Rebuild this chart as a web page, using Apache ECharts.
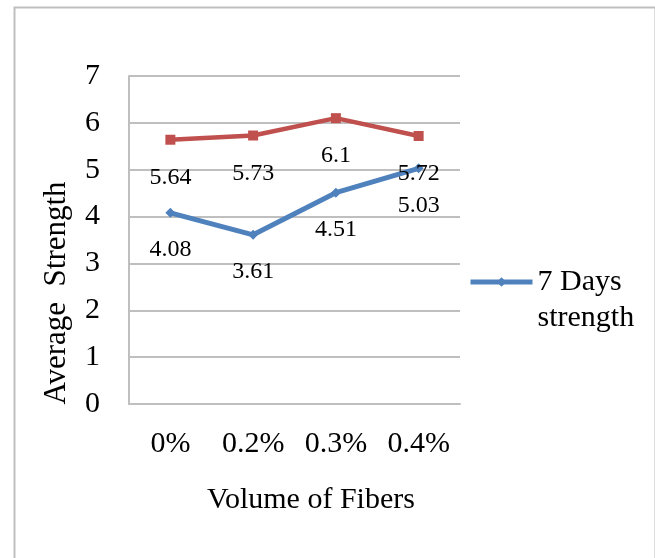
<!DOCTYPE html>
<html>
<head>
<meta charset="utf-8">
<script src="https://cdn.jsdelivr.net/npm/echarts@6/dist/echarts.min.js"></script>
<style>
html,body{margin:0;padding:0;background:#fff;}
#c{width:655px;height:558px;}
</style>
</head>
<body>
<div id="c"></div>
<script>
var categories = ['0%', '0.2%', '0.3%', '0.4%'];
var days7 = [4.08, 3.61, 4.51, 5.03];
var days28 = [5.64, 5.73, 6.1, 5.72];
var yTicks = [0, 1, 2, 3, 4, 5, 6, 7];

var FONT = '"Liberation Serif", "Times New Roman", serif';
var chart = echarts.init(document.getElementById('c'), null, {renderer: 'canvas'});
chart.setOption({
  backgroundColor: '#fff',
  animation: false,
  grid: {left: 129, right: 195, top: 76, bottom: 154, containLabel: false},
  xAxis: {
    type: 'category',
    data: categories,
    boundaryGap: true,
    axisLine: {show: true, lineStyle: {color: '#bfbfbf', width: 2}},
    axisTick: {show: false},
    axisLabel: {color: '#000', fontFamily: FONT, fontSize: 30, margin: 25}
  },
  yAxis: {
    type: 'value',
    min: yTicks[0],
    max: yTicks[yTicks.length - 1],
    interval: 1,
    axisLine: {show: true, lineStyle: {color: '#bfbfbf', width: 2}},
    axisTick: {show: false},
    axisLabel: {color: '#000', fontFamily: FONT, fontSize: 30, margin: 29},
    splitLine: {show: true, lineStyle: {color: '#bfbfbf', width: 2}}
  },
  legend: {
    data: ['7 Days strength'],
    left: 463,
    top: 223,
    itemWidth: 62,
    itemHeight: 12,
    itemGap: 0,
    lineStyle: {width: 5},
    formatter: function () { return ' \n7 Days\nstrength'; },
    textStyle: {color: '#000', fontFamily: FONT, fontSize: 30, lineHeight: 36}
  },
  series: [
    {
      name: '28 Days strength',
      type: 'line',
      data: days28,
      symbol: 'rect',
      symbolSize: 10,
      itemStyle: {color: '#c0504d'},
      lineStyle: {color: '#c0504d', width: 4.5},
      label: {show: true, position: 'bottom', distance: 21, color: '#000', fontFamily: FONT, fontSize: 24}
    },
    {
      name: '7 Days strength',
      type: 'line',
      data: days7,
      symbol: 'diamond',
      symbolSize: 10,
      itemStyle: {color: '#4f81bd'},
      lineStyle: {color: '#4f81bd', width: 5},
      label: {show: true, position: 'bottom', distance: 20, color: '#000', fontFamily: FONT, fontSize: 24}
    }
  ],
  graphic: [
    {
      type: 'rect',
      left: 12, top: 5,
      shape: {width: 641, height: 580},
      style: {fill: 'none', stroke: '#bfbfbf', lineWidth: 2},
      silent: true
    },
    {
      type: 'text',
      x: 57, y: 293,
      rotation: Math.PI / 2,
      style: {text: 'Average  Strength', fontFamily: FONT, fontSize: 31, fill: '#000', align: 'center', verticalAlign: 'middle'}
    },
    {
      type: 'text',
      x: 311, y: 500,
      style: {text: 'Volume of Fibers', fontFamily: FONT, fontSize: 30, fill: '#000', align: 'center', verticalAlign: 'middle'}
    }
  ]
});
</script>
</body>
</html>
